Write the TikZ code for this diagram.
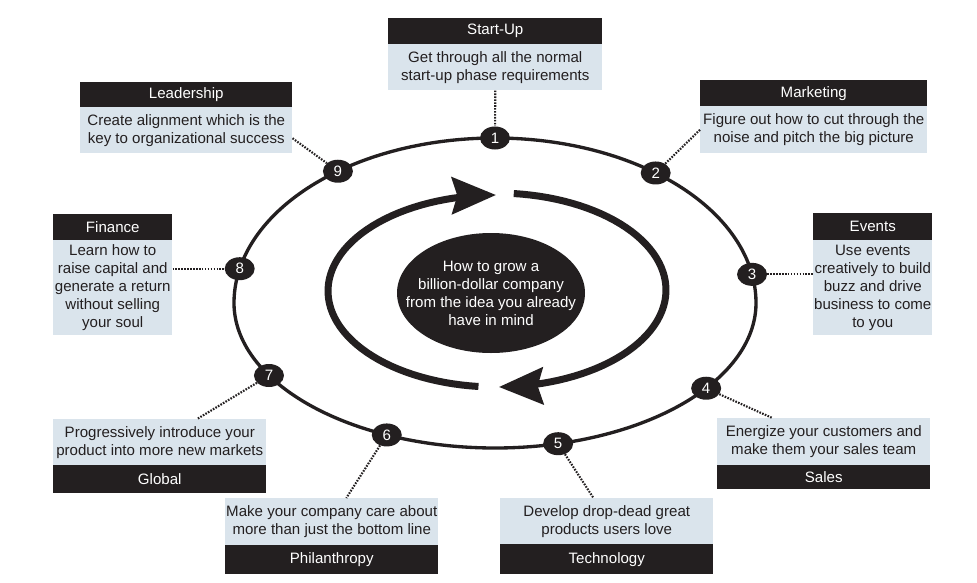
\documentclass[tikz,border=0pt]{standalone}
\usepackage{fontspec}
\setmainfont{Liberation Sans}
\usetikzlibrary{arrows.meta,shapes.geometric}
\definecolor{dark}{RGB}{35,31,32}
\definecolor{pale}{RGB}{218,228,236}
\begin{document}
\begin{tikzpicture}[x=0.75pt,y=-0.75pt,
  txt/.style={font=\fontsize{11.3}{13.5}\selectfont},
  hdr/.style={txt,fill=dark,text=white,inner sep=0pt,anchor=north west},
  bdy/.style={txt,fill=pale,text=dark,inner sep=0pt,anchor=north west,align=center},
  num/.style={ellipse,txt,fill=dark,text=white,inner sep=0pt,minimum width=22.5pt,minimum height=17.25pt},
  outer/.style={draw=dark,line width=2.5pt},
  dots/.style={draw=dark,line width=1.6pt,dash pattern=on 1.2pt off 1pt},
  big/.style={draw=dark,line width=5.25pt,-{Stealth[length=33pt,width=27.5pt,inset=4pt]}}]
\useasboundingbox (0,0) rectangle (977,582);
\fill[white] (0,0) rectangle (977,582);

% outer loop
\draw[outer] plot[domain=0:360,samples=181,smooth]
  ({495+261*cos(\x)},{303-(sin(\x)>0?165:145)*sin(\x)}) -- cycle;

% inner arrows
\draw[big] plot[domain=96:270,samples=60] ({496+168*cos(\x)},{291+96*sin(\x)});
\draw[big] plot[domain=-84:89,samples=60] ({496+170*cos(\x)},{290+97*sin(\x)});

% centre
\node[ellipse,fill=dark,minimum width=141pt,minimum height=90pt,inner sep=0pt] (ctr) at (491,293) {};
\node[txt,text=white,align=center] (ctrtext) at (ctr) {How to grow a\\billion-dollar company\\from the idea you already\\have in mind};

% numbered markers
\node[num] (n1) at ({495+261*cos(90)},{303-165*sin(90)}) {1};
\node[num] (n2) at ({495+261*cos(52)},{303-165*sin(52)}) {2};
\node[num] (n3) at ({495+261*cos(10)},{303-165*sin(10)}) {3};
\node[num] (n4) at ({495+261*cos(324)},{303-145*sin(324)}) {4};
\node[num] (n5) at ({495+261*cos(284)},{303-145*sin(284)}) {5};
\node[num] (n6) at ({495+261*cos(245.5)},{303-145*sin(245.5)}) {6};
\node[num] (n7) at ({495+261*cos(210)},{303-145*sin(210)}) {7};
\node[num] (n8) at ({495+261*cos(168)},{303-165*sin(168)}) {8};
\node[num] (n9) at ({495+261*cos(127)},{303-165*sin(127)}) {9};

% boxes
\node[hdr,minimum width=160.5pt,minimum height=19.5pt] (suh) at (388,18) {Start-Up};
\node[bdy,minimum width=160.5pt,minimum height=34.5pt] (sub) at (388,44) {Get through all the normal\\start-up phase requirements};

\node[hdr,minimum width=159pt,minimum height=18.75pt] (ldh) at (80,82) {Leadership};
\node[bdy,minimum width=159pt,minimum height=34.5pt] (ldb) at (80,107) {Create alignment which is the\\key to organizational success};

\node[hdr,minimum width=170.25pt,minimum height=19.5pt] (mkh) at (700,80) {Marketing};
\node[bdy,minimum width=170.25pt,minimum height=35.25pt] (mkb) at (700,106) {Figure out how to cut through the\\noise and pitch the big picture};

\node[hdr,minimum width=89.25pt,minimum height=20.25pt] (evh) at (813,213) {Events};
\node[bdy,minimum width=89.25pt,minimum height=71.25pt] (evb) at (813,240) {Use events\\creatively to build\\buzz and drive\\business to come\\to you};

\node[hdr,minimum width=89.25pt,minimum height=19.5pt] (fnh) at (53,214) {Finance};
\node[bdy,minimum width=89.25pt,minimum height=71.25pt] (fnb) at (53,240) {Learn how to\\raise capital and\\generate a return\\without selling\\your soul};

\node[bdy,minimum width=159.75pt,minimum height=34.5pt] (glb) at (53,419) {Progressively introduce your\\product into more new markets};
\node[hdr,minimum width=159.75pt,minimum height=21pt] (glh) at (53,465) {Global};

\node[bdy,minimum width=159.75pt,minimum height=35.25pt] (slb) at (717,418) {Energize your customers and\\make them your sales team};
\node[hdr,minimum width=159.75pt,minimum height=18pt] (slh) at (717,465) {Sales};

\node[bdy,minimum width=159.75pt,minimum height=35.25pt] (phb) at (225,498) {Make your company care about\\more than just the bottom line};
\node[hdr,minimum width=159.75pt,minimum height=21.75pt] (phh) at (225,545) {Philanthropy};

\node[bdy,minimum width=159.75pt,minimum height=34.5pt] (teb) at (500,498) {Develop drop-dead great\\products users love};
\node[hdr,minimum width=159.75pt,minimum height=22.5pt] (teh) at (500,544) {Technology};

% dotted connectors
\draw[dots] (sub.south) -- (n1);
\draw[dots] ([yshift=-6pt]ldb.east) -- (n9);
\draw[dots] (mkb.west) -- (n2);
\draw[dots] (n3) -- (n3 -| evb.west);
\draw[dots] (n8 -| fnb.east) -- (n8);
\draw[dots] (n7) -- ([xshift=28pt]glb.north);
\draw[dots] (n4) -- ([xshift=-38.6pt]slb.north);
\draw[dots] (n6) -- ([xshift=10.9pt]phb.north);
\draw[dots] (n5) -- ([xshift=-10pt]teb.north);
\end{tikzpicture}
\end{document}
